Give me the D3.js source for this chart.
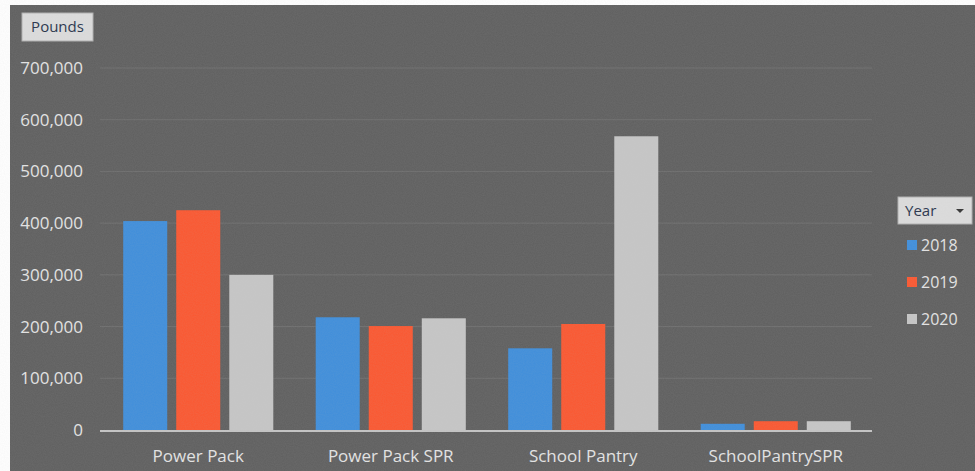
<!DOCTYPE html>
<html>
<head>
<meta charset="utf-8">
<script src="https://cdn.jsdelivr.net/npm/d3@7"></script>
<style>
  html, body { margin: 0; padding: 0; background: #fff; }
  svg { display: block; }
  text { font-family: "Open Sans", "Noto Sans", sans-serif; }
  .tick-label { fill: #e4e4e4; font-size: 17px; }
  .cat-label { fill: #e4e4e4; font-size: 17px; }
  .legend-label { fill: #e4e4e4; font-size: 16px; }
</style>
</head>
<body>
<svg id="plot"></svg>
<script>
const width = 975;
const height = 471;

// datos
const categories = ["Power Pack", "Power Pack SPR", "School Pantry", "SchoolPantrySPR"];
const years = ["2018", "2019", "2020"];
const values2018 = [404000, 218000, 158000, 12000];
const values2019 = [425000, 201000, 205000, 17000];
const values2020 = [300000, 216000, 568000, 17000];
const yTicks = [0, 100000, 200000, 300000, 400000, 500000, 600000, 700000];
const colors = ["#3f8edb", "#fb5730", "#c6c6c6"];

const series = [values2018, values2019, values2020];

const svg = d3.select("#plot")
  .attr("width", width)
  .attr("height", height);

// fondo (foto de pantalla: borde blanco arriba e izquierda)
const defs = svg.append("defs");
const noise = defs.append("filter").attr("id", "noise");
noise.append("feTurbulence")
  .attr("type", "fractalNoise")
  .attr("baseFrequency", "0.9")
  .attr("numOctaves", "2")
  .attr("seed", "3");
noise.append("feColorMatrix")
  .attr("type", "matrix")
  .attr("values", "0 0 0 0 0.5  0 0 0 0 0.5  0 0 0 0 0.5  0 0 0 0.12 0");

svg.append("rect")
  .attr("x", 10).attr("y", 5)
  .attr("width", width - 10).attr("height", height - 5)
  .attr("fill", "#5f5f5f");

const x0 = d3.scaleBand()
  .domain(categories)
  .range([102, 872]);

const x1 = d3.scaleBand()
  .domain(years)
  .range([0, x0.bandwidth()])
  .paddingInner(0.17)
  .paddingOuter(0.4);

const y = d3.scaleLinear()
  .domain([0, 700000])
  .range([430, 68]);

// lineas de cuadricula
svg.append("g")
  .selectAll("line")
  .data(yTicks.filter(d => d > 0))
  .enter()
  .append("line")
    .attr("x1", 100)
    .attr("x2", 872)
    .attr("y1", d => y(d))
    .attr("y2", d => y(d))
    .attr("stroke", "#6e6e6e")
    .attr("stroke-width", 1);

// etiquetas eje y
svg.append("g")
  .selectAll("text")
  .data(yTicks)
  .enter()
  .append("text")
    .attr("class", "tick-label")
    .attr("x", 83)
    .attr("y", d => y(d))
    .attr("dy", "0.35em")
    .attr("text-anchor", "end")
    .text(d => d3.format(",")(d));

// barras
const groups = svg.append("g")
  .selectAll("g")
  .data(categories)
  .enter()
  .append("g")
    .attr("transform", d => "translate(" + x0(d) + ",0)");

groups.selectAll("rect")
  .data((d, i) => years.map((yr, j) => ({year: yr, value: series[j][i], color: colors[j]})))
  .enter()
  .append("rect")
    .attr("x", d => x1(d.year))
    .attr("y", d => y(d.value))
    .attr("width", x1.bandwidth())
    .attr("height", d => y(0) - y(d.value))
    .attr("fill", d => d.color);

// eje x
svg.append("line")
  .attr("x1", 100)
  .attr("x2", 872)
  .attr("y1", y(0) + 1)
  .attr("y2", y(0) + 1)
  .attr("stroke", "#c4c4c4")
  .attr("stroke-width", 2);

svg.append("g")
  .selectAll("text")
  .data(categories)
  .enter()
  .append("text")
    .attr("class", "cat-label")
    .attr("x", d => x0(d) + x0.bandwidth() / 2)
    .attr("y", 456)
    .attr("dy", "0.35em")
    .attr("text-anchor", "middle")
    .text(d => d);

// boton "Pounds"
const pounds = svg.append("g").attr("transform", "translate(22,13)");
pounds.append("rect")
  .attr("width", 71).attr("height", 28)
  .attr("fill", "#dcdcdc")
  .attr("stroke", "#b0b0b0");
pounds.append("text")
  .attr("x", 35.5).attr("y", 14)
  .attr("dy", "0.35em")
  .attr("text-anchor", "middle")
  .attr("fill", "#26324a")
  .style("font-size", "15px")
  .text("Pounds");

// leyenda
const legend = svg.append("g").attr("transform", "translate(898,197)");
legend.append("rect")
  .attr("width", 74).attr("height", 27)
  .attr("fill", "#dcdcdc")
  .attr("stroke", "#b0b0b0");
legend.append("text")
  .attr("x", 7).attr("y", 14)
  .attr("dy", "0.35em")
  .attr("fill", "#26324a")
  .style("font-size", "15px")
  .text("Year");
legend.append("path")
  .attr("d", "M58,12 L66,12 L62,16 Z")
  .attr("fill", "#333");

const legendY = [245, 282, 319];
years.forEach((yr, i) => {
  legend.append("rect")
    .attr("x", 9).attr("y", legendY[i] - 197 - 5)
    .attr("width", 10).attr("height", 10)
    .attr("fill", colors[i]);
  legend.append("text")
    .attr("class", "legend-label")
    .attr("x", 23).attr("y", legendY[i] - 197)
    .attr("dy", "0.35em")
    .text(yr);
});

// textura de la foto
svg.append("rect")
  .attr("x", 10).attr("y", 5)
  .attr("width", width - 10).attr("height", height - 5)
  .attr("filter", "url(#noise)")
  .attr("pointer-events", "none");
</script>
</body>
</html>
